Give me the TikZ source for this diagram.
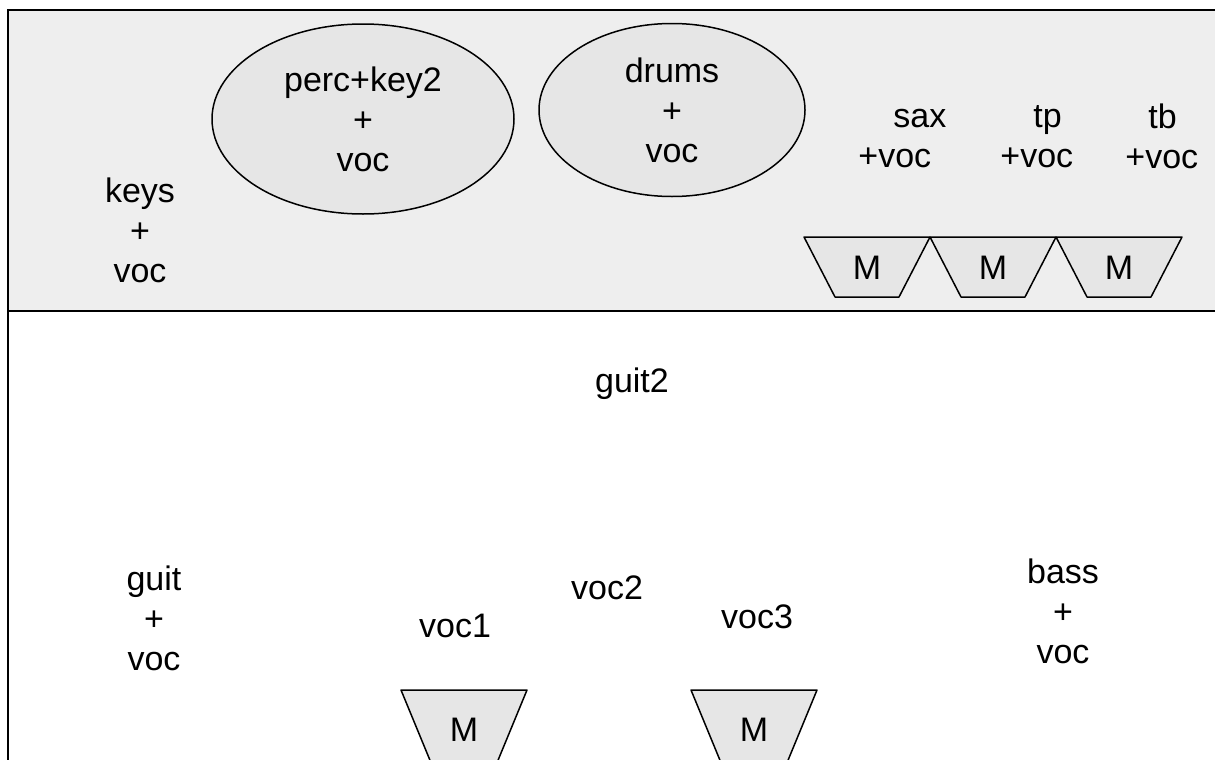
\documentclass[tikz,border=0pt]{standalone}
\usepackage{fontspec}
\setmainfont{Liberation Sans}
\usetikzlibrary{shapes.geometric}
\definecolor{stagegray}{HTML}{EEEEEE}
\definecolor{boxgray}{HTML}{E6E6E6}

\begin{document}
\begin{tikzpicture}[x=0.5pt, y=-0.5pt,
		lbl/.style={font=\fontsize{17pt}{20pt}\selectfont, align=center, inner sep=0pt},
		lblleft/.style={lbl, align=left},
		riser/.style={lbl, ellipse, draw, fill=boxgray, line width=0.75pt},
		monitor/.style={draw, fill=boxgray, line width=0.75pt, line join=round}
		]
	\useasboundingbox (0,0) rectangle (1215,760);
	\clip (0,0) rectangle (1215,760);
	\fill[stagegray] (8,10) rectangle (1225,311);
	\draw[line width=1pt] (1225,10) -- (8,10) -- (8,775);
	\draw[line width=1pt] (8,311) -- (1225,311);

	\node [riser, minimum width=151pt, minimum height=95pt] (perc) at (363,119) {perc+key2\\+\\voc};
	\node [riser, minimum width=133pt, minimum height=86.5pt] (drums) at (672,110) {drums\\+\\voc};
	\node [lbl] (keys) at (140,230) {keys\\+\\voc};
	\node [lblleft, anchor=west] (sax) at (858,139) {\hspace*{17.5pt}sax\\+voc};
	\node [lblleft, anchor=west] (tp) at (1000,137) {\hspace*{16.5pt}tp\\+voc};
	\node [lblleft, anchor=west] (tb) at (1125,136) {\hspace*{11.5pt}tb\\+voc};

	\foreach \mx [count=\i] in {804,930,1056} {
		\draw [monitor] (\mx,237) -- ++(126,0) -- ++(-31,60) -- ++(-64,0) -- cycle;
		\node [lbl] (mtop\i) at (\mx+63,268) {M};
	}

	\node [lbl, anchor=base] (guit2) at (632,392) {guit2};
	\node [lbl] (guit) at (154,618) {guit\\+\\voc};
	\node [lbl, anchor=base] (voc1) at (455,637) {voc1};
	\node [lbl, anchor=base] (voc2) at (607,599) {voc2};
	\node [lbl, anchor=base] (voc3) at (757,628) {voc3};
	\node [lbl] (bass) at (1063,611) {bass\\+\\voc};

	\foreach \mx [count=\i] in {401,691} {
		\draw [monitor] (\mx,690) -- ++(126,0) -- ++(-33,80) -- ++(-60,0) -- cycle;
		\node [lbl] (mfront\i) at (\mx+63,730) {M};
	}
\end{tikzpicture}
\end{document}
